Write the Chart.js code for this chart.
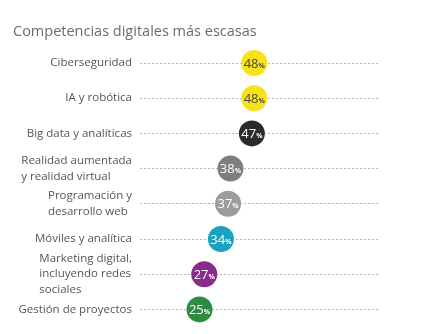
<!DOCTYPE html>
<html>
<head>
<meta charset="utf-8">
<script src="https://cdn.jsdelivr.net/npm/chart.js@4"></script>
<style>
  html, body { margin: 0; padding: 0; background: #fff; }
  #wrap { width: 427px; height: 334px; }
</style>
</head>
<body>
<div id="wrap"><canvas id="chart"></canvas></div>
<script>
const title = 'Competencias digitales más escasas';
const categories = [
  'Ciberseguridad',
  'IA y robótica',
  'Big data y analíticas',
  ['Realidad aumentada', 'y realidad virtual'],
  ['Programación y', 'desarrollo web'],
  'Móviles y analítica',
  ['Marketing digital,', 'incluyendo redes', 'sociales'],
  'Gestión de proyectos'
];
const values = [48, 48, 47, 38, 37, 34, 27, 25];
const dotColors = ['#f6e31c', '#f6e31c', '#2b2b2b', '#7e7e7e', '#9c9c9c', '#1aa2bf', '#8a2a8c', '#2e8b3f'];
const textColors = ['#4a4a3a', '#4a4a3a', '#fff', '#fff', '#fff', '#fff', '#fff', '#fff'];

const FONT = '"Open Sans", sans-serif';

// category labels: left-aligned blocks, right edge fixed
const labelPlugin = {
  id: 'labels',
  afterDraw(chart) {
    const { ctx } = chart;
    const y = chart.scales.y;
    const right = chart.chartArea.left - 8;
    ctx.save();
    ctx.font = '11.5px ' + FONT;
    ctx.fillStyle = '#555';
    ctx.textBaseline = 'middle';
    categories.forEach((c, i) => {
      const lines = Array.isArray(c) ? c : [c];
      const w = Math.max(...lines.map(l => ctx.measureText(l).width));
      const cy = y.getPixelForValue(i);
      const lh = 15.5;
      const top = cy - (lines.length - 1) * lh / 2;
      ctx.textAlign = 'left';
      lines.forEach((l, k) => ctx.fillText(l, right - w, top + k * lh));
    });
    ctx.restore();
  }
};

// value text inside the dots
const valuePlugin = {
  id: 'values',
  afterDatasetsDraw(chart) {
    const { ctx } = chart;
    const meta = chart.getDatasetMeta(0);
    ctx.save();
    ctx.textBaseline = 'alphabetic';
    ctx.textAlign = 'left';
    meta.data.forEach((pt, i) => {
      const num = String(values[i]);
      ctx.font = '13px ' + FONT;
      const w1 = ctx.measureText(num).width;
      ctx.font = 'bold 7px ' + FONT;
      const w2 = ctx.measureText('%').width;
      const x0 = pt.x - (w1 + w2) / 2;
      ctx.fillStyle = textColors[i];
      ctx.font = '13px ' + FONT;
      ctx.fillText(num, x0, pt.y + 4.5);
      ctx.font = 'bold 7px ' + FONT;
      ctx.fillText('%', x0 + w1, pt.y + 4.5);
    });
    ctx.restore();
  }
};

new Chart(document.getElementById('chart'), {
  type: 'line',
  data: {
    labels: categories,
    datasets: [{
      data: values,
      showLine: false,
      pointRadius: 13,
      pointHoverRadius: 13,
      pointBorderWidth: 0,
      pointBackgroundColor: dotColors,
      clip: false
    }]
  },
  options: {
    indexAxis: 'y',
    responsive: true,
    maintainAspectRatio: false,
    animation: false,
    layout: { autoPadding: false, padding: { left: 13, right: 49, bottom: 7 } },
    scales: {
      x: { type: 'linear', min: 0, max: 100, display: false },
      y: {
        type: 'category',
        offset: true,
        afterFit(scale) { scale.width = 127; },
        ticks: { display: false },
        border: { display: false, dash: [2, 2] },
        grid: { offset: false, drawTicks: false, color: '#b5b5b5', lineWidth: 1 }
      }
    },
    plugins: {
      legend: { display: false },
      tooltip: { enabled: false },
      title: {
        display: true,
        text: title,
        align: 'start',
        color: '#6b6b6b',
        font: { family: FONT, size: 14.5, weight: 'normal' },
        padding: { top: 23, bottom: 5 }
      }
    }
  },
  plugins: [labelPlugin, valuePlugin]
});
</script>
</body>
</html>
